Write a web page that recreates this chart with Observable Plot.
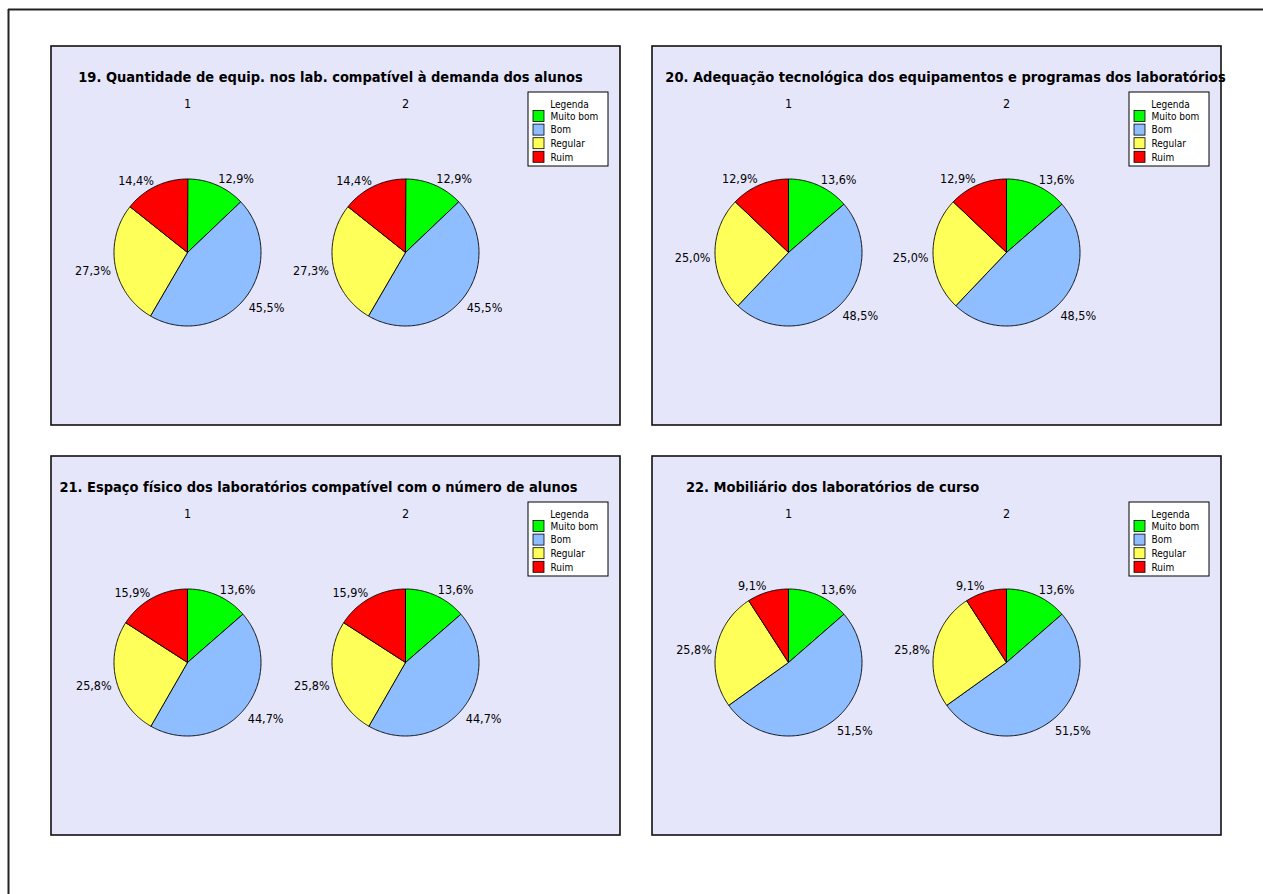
<!DOCTYPE html>
<html><head><meta charset="utf-8">
<script src="https://cdn.jsdelivr.net/npm/d3@7"></script>
<script src="https://cdn.jsdelivr.net/npm/@observablehq/plot@0.6"></script>
<style>body{margin:0;background:#fff}</style>
</head><body><div id="chart"></div>
<script>
// ---- data ----
const titles = [
  "19. Quantidade de equip. nos lab. compatível à demanda dos alunos",
  "20. Adequação tecnológica dos equipamentos e programas dos laboratórios",
  "21. Espaço físico dos laboratórios compatível com o número de alunos",
  "22. Mobiliário dos laboratórios de curso"
];
const categories = ["Muito bom", "Bom", "Regular", "Ruim"];
const sliceColors = ["#00FF00", "#8EBEFF", "#FFFF59", "#FF0000"];
const q19 = [12.9, 45.5, 27.3, 14.4];
const q20 = [13.6, 48.5, 25.0, 12.9];
const q21 = [13.6, 44.7, 25.8, 15.9];
const q22 = [13.6, 51.5, 25.8, 9.1];
const pieNames = ["1", "2"];
const legendTitle = "Legenda";

// ---- layout ----
const W = 1263, H = 894;
const panelOrigins = [[51, 46], [652, 46], [51, 456], [652, 456]];
const panelW = 569, panelH = 379;
const pieCX = [136, 354], pieCY = 206, R = 73.5, LR = 78;
const titleCX = [279, 293, 267, 180], titleY = 31;
const pieNameY = 57.5;
const legBox = {x1: 477, x2: 557, y1: 46, y2: 120};
const FONT = "DejaVu Sans Condensed";

const series = [q19, q20, q21, q22];
const fmt = v => d3.format(".1f")(v).replace(".", ",") + "%";

const slicePts = [], labels = [], pieTitles = [], panelRects = [], titleRows = [];
const legendBoxes = [], legendSw = [], legendTxt = [];
series.forEach((vals, p) => {
  const [ox, oy] = panelOrigins[p];
  panelRects.push({x1: ox, y1: oy, x2: ox + panelW, y2: oy + panelH});
  titleRows.push({x: ox + titleCX[p], y: oy + titleY, t: titles[p]});
  legendBoxes.push({x1: ox + legBox.x1, x2: ox + legBox.x2, y1: oy + legBox.y1, y2: oy + legBox.y2});
  legendTxt.push({x: ox + 518, y: oy + 58, t: legendTitle, anchor: "middle"});
  categories.forEach((c, i) => {
    const cy = oy + 70 + i * 13.6;
    legendSw.push({x1: ox + 482, x2: ox + 493, y1: cy - 5.5, y2: cy + 5.5, color: sliceColors[i]});
    legendTxt.push({x: ox + 499, y: cy, t: c, anchor: "start"});
  });
  pieNames.forEach((nm, k) => {
    const cx = ox + pieCX[k], cy = oy + pieCY;
    pieTitles.push({x: cx, y: oy + pieNameY, t: nm});
    let cum = 0;
    vals.forEach((v, i) => {
      const a0 = cum / 100 * 2 * Math.PI;
      cum += v;
      const a1 = cum / 100 * 2 * Math.PI;
      const key = `${p}-${k}-${i}`;
      slicePts.push({key, color: sliceColors[i], x: cx, y: cy});
      const n = Math.max(2, Math.ceil((a1 - a0) / (Math.PI / 180)));
      for (let j = 0; j <= n; j++) {
        const a = a0 + (a1 - a0) * j / n;
        slicePts.push({key, color: sliceColors[i], x: cx + R * Math.sin(a), y: cy - R * Math.cos(a)});
      }
      slicePts.push({key, color: sliceColors[i], x: cx, y: cy});
      const m = (a0 + a1) / 2;
      labels.push({
        x: cx + LR * Math.sin(m),
        y: cy - (LR + 5.5) * Math.cos(m) + 3.5,
        t: fmt(v),
        side: Math.sin(m) >= 0 ? 1 : -1
      });
    });
  });
});

const chart = Plot.plot({
  width: W, height: H, margin: 0,
  x: {domain: [0, W], range: [0, W], axis: null},
  y: {domain: [0, H], range: [0, H], axis: null},
  color: {type: "identity"},
  style: {background: "white", fontFamily: FONT},
  marks: [
    Plot.ruleY([9], {x1: 8, x2: W, stroke: "#222", strokeWidth: 2}),
    Plot.ruleX([8], {y1: 9, y2: H, stroke: "#222", strokeWidth: 2}),
    Plot.rect(panelRects, {x1: "x1", y1: "y1", x2: "x2", y2: "y2", fill: "#E6E6FA", stroke: "#111", strokeWidth: 1.6}),
    Plot.line(slicePts, {x: "x", y: "y", z: "key", fill: "color", stroke: "#000", strokeWidth: 0.9, strokeLinejoin: "round"}),
    Plot.text(labels.filter(d => d.side > 0), {x: "x", y: "y", text: "t", textAnchor: "start", fontSize: 12.5, fill: "#000"}),
    Plot.text(labels.filter(d => d.side < 0), {x: "x", y: "y", text: "t", textAnchor: "end", fontSize: 12.5, fill: "#000"}),
    Plot.text(pieTitles, {x: "x", y: "y", text: "t", fontSize: 12.5, fill: "#000"}),
    Plot.text(titleRows, {x: "x", y: "y", text: "t", fontSize: 14.5, fontWeight: "bold", fill: "#000"}),
    Plot.rect(legendBoxes, {x1: "x1", y1: "y1", x2: "x2", y2: "y2", fill: "white", stroke: "#000", strokeWidth: 1}),
    Plot.rect(legendSw, {x1: "x1", y1: "y1", x2: "x2", y2: "y2", fill: "color", stroke: "#000", strokeWidth: 0.8}),
    Plot.text(legendTxt.filter(d => d.anchor === "middle"), {x: "x", y: "y", text: "t", fontSize: 10, fill: "#000"}),
    Plot.text(legendTxt.filter(d => d.anchor === "start"), {x: "x", y: "y", text: "t", textAnchor: "start", fontSize: 10, fill: "#000"})
  ]
});
document.getElementById("chart").appendChild(chart);
</script>
</body></html>
